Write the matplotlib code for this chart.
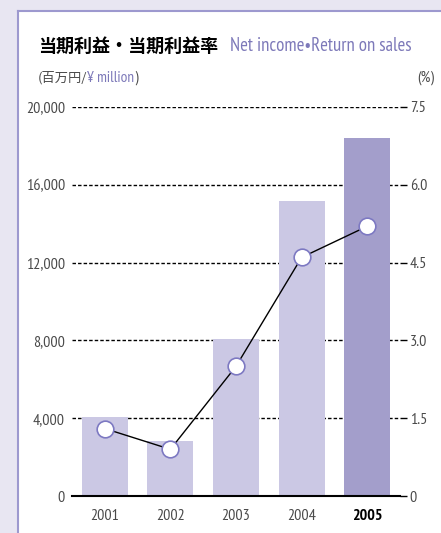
import matplotlib.pyplot as plt
from matplotlib.patches import Rectangle
from matplotlib.lines import Line2D

years = ['2001', '2002', '2003', '2004', '2005']
net_income = [4050, 2850, 8050, 15150, 18400]
return_on_sales = [1.3, 0.9, 2.5, 4.6, 5.2]
left_ticks = [0, 4000, 8000, 12000, 16000, 20000]
left_labels = ['0', '4,000', '8,000', '12,000', '16,000', '20,000']
right_ticks = [0, 1.5, 3.0, 4.5, 6.0, 7.5]
right_labels = ['0', '1.5', '3.0', '4.5', '6.0', '7.5']

W, H = 441, 533
narrow = ['PT Sans Narrow', 'Roboto Condensed', 'Noto Sans CJK JP', 'DejaVu Sans']
cjk = ['Noto Sans CJK JP', 'DejaVu Sans']
purple = '#7d79b9'
grey = '#4a4a4a'

fig = plt.figure(figsize=(W / 100, H / 100), dpi=100)
fig.patch.set_facecolor('#e8e6f2')

# white panel with lavender edge
fig.add_artist(Rectangle((18 / W, 0), 1, 1 - 11 / H, transform=fig.transFigure,
                         facecolor='white', edgecolor='none', zorder=0))
fig.add_artist(Line2D([18 / W, 18 / W], [0, 1 - 11 / H], transform=fig.transFigure,
                      color='#9d99cf', lw=1.5))
fig.add_artist(Line2D([18 / W, 1], [1 - 11 / H, 1 - 11 / H], transform=fig.transFigure,
                      color='#9d99cf', lw=1.5))

ax = fig.add_axes([72 / W, 37 / H, 328 / W, 389 / H])
ax.patch.set_alpha(0)
x = list(range(len(years)))
colors = ['#cbc8e4'] * 4 + ['#a39ecb']
ax.bar(x, net_income, width=0.7, color=colors, zorder=2)
ax.set_xlim(-0.5, 4.5)
ax.set_ylim(0, 20000)
ax.set_yticks(left_ticks)
ax.set_yticklabels(left_labels, family=narrow, fontsize=11.5, color=grey)
for t in left_ticks[1:]:
    ax.axhline(t, color='black', lw=1, ls=(0, (2.5, 1.5)), zorder=1)
ax.set_xticks(x)
ax.set_xticklabels(years, family=narrow, fontsize=11.5, color=grey)
lab = ax.get_xticklabels()[-1]
lab.set_fontweight('bold')
lab.set_color('black')
ax.tick_params(axis='y', length=0, pad=5)
ax.tick_params(axis='x', length=0, pad=9)
for s in ['top', 'right', 'left']:
    ax.spines[s].set_visible(False)
ax.spines['bottom'].set_linewidth(1.5)
ax.spines['bottom'].set_zorder(5)

ax2 = ax.twinx()
ax2.set_ylim(0, 7.5)
ax2.set_yticks(right_ticks)
ax2.set_yticklabels(right_labels, family=narrow, fontsize=11.5, color=grey)
ax2.tick_params(axis='y', length=5, width=1, pad=2)
for s in ax2.spines.values():
    s.set_visible(False)
ax2.plot(x, return_on_sales, color='black', lw=1, marker='o', markersize=12,
         markerfacecolor='white', markeredgecolor='#7d79c2', markeredgewidth=1.2, zorder=4)

# titles
fig.text(38 / W, 1 - 46 / H, '当期利益・当期利益率', family=cjk, fontsize=13,
         fontweight='bold', color='black', va='center')
fig.text(230 / W, 1 - 46 / H, 'Net income•Return on sales', family=narrow,
         fontsize=13.5, color=purple, va='center')

# unit line, pieces placed one after another
fig.canvas.draw()
r = fig.canvas.get_renderer()
base = 1 - 82 / H
s1 = fig.text(38 / W, base, '(百万円/', family=cjk, fontsize=9.5, color=grey,
              va='baseline')
x1 = s1.get_window_extent(r).x1 / W
s2 = fig.text(x1, base, '¥ million', family=narrow, fontsize=11, color=purple,
              va='baseline')
x2 = s2.get_window_extent(r).x1 / W
fig.text(x2, base, ')', family=narrow, fontsize=11, color=grey, va='baseline')
fig.text(434 / W, base, '(%)', family=narrow, fontsize=11, color=grey,
         ha='right', va='baseline')

fig.savefig('out.png', dpi=100)
